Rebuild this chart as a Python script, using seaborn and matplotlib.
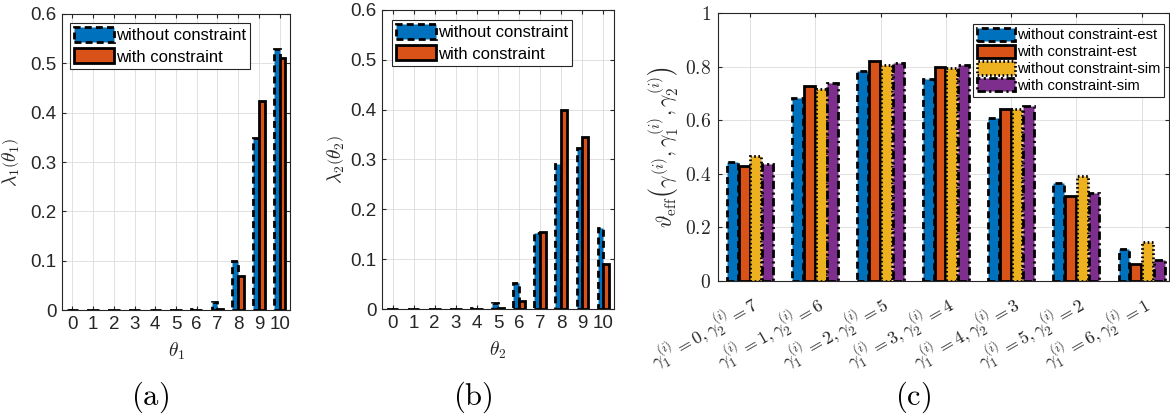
import numpy as np
import pandas as pd
import matplotlib
matplotlib.use('Agg')
import matplotlib.pyplot as plt
import matplotlib.transforms as mtransforms
from matplotlib.patches import Patch
import seaborn as sns

# === data ===
theta = [str(t) for t in range(11)]
lam1_without = [0.001, 0.001, 0.001, 0.001, 0.001, 0.001, 0.002, 0.017, 0.100, 0.348, 0.530]
lam1_with = [0.000, 0.000, 0.000, 0.000, 0.000, 0.000, 0.001, 0.002, 0.068, 0.423, 0.510]
lam2_without = [0.001, 0.001, 0.001, 0.001, 0.002, 0.012, 0.052, 0.152, 0.290, 0.323, 0.163]
lam2_with = [0.000, 0.000, 0.000, 0.000, 0.001, 0.002, 0.016, 0.154, 0.400, 0.345, 0.090]

groups = [r'$\gamma_1^{(i)}=%d,\gamma_2^{(i)}=%d$' % (k, 7 - k) for k in range(7)]
eff_without_est = [0.445, 0.683, 0.782, 0.753, 0.610, 0.365, 0.118]
eff_with_est = [0.430, 0.727, 0.820, 0.800, 0.642, 0.318, 0.063]
eff_without_sim = [0.467, 0.715, 0.805, 0.795, 0.642, 0.393, 0.147]
eff_with_sim = [0.437, 0.737, 0.812, 0.805, 0.653, 0.328, 0.080]

two_labels = ['without constraint', 'with constraint']
four_labels = ['without constraint-est', 'with constraint-est',
               'without constraint-sim', 'with constraint-sim']

blue, orange, yellow, purple = '#0072BD', '#D95319', '#EDB120', '#7E2F8E'
styles = [(0, (2.5, 1.5)), '-', (0, (0.6, 0.9)), (0, (3, 1.2, 0.8, 1.2))]
axis_gray = '#262626'

plt.rcParams.update({
    'font.family': ['Liberation Sans', 'DejaVu Sans'],
    'mathtext.fontset': 'cm',
    'xtick.direction': 'in',
    'ytick.direction': 'in',
    'xtick.top': True,
    'ytick.right': True,
    'xtick.color': axis_gray,
    'ytick.color': axis_gray,
    'axes.edgecolor': axis_gray,
    'axes.linewidth': 0.8,
    'xtick.major.size': 3,
    'ytick.major.size': 3,
})

fig = plt.figure(figsize=(11.7, 4.19), dpi=100)
W, H = 1170, 419


def px_axes(x0, y0, x1, y1):
    return fig.add_axes([x0 / W, 1 - y1 / H, (x1 - x0) / W, (y1 - y0) / H])


def style_bars(ax, n):
    for cont, ls in zip(ax.containers, styles[:n]):
        for p in cont:
            p.set_linestyle(ls)


def make_legend(ax, labels, colors, anchor, loc, size, spacing, hh, hl):
    handles = [Patch(facecolor=c, edgecolor='black', linewidth=2, linestyle=ls)
               for c, ls in zip(colors, styles)]
    leg = ax.legend(handles, labels, loc=loc, bbox_to_anchor=anchor,
                    borderaxespad=0, fontsize=size, handlelength=hl,
                    handleheight=hh, handletextpad=0.12, borderpad=0.25,
                    labelspacing=spacing, fancybox=False, framealpha=1)
    leg.get_frame().set_edgecolor(axis_gray)
    leg.get_frame().set_linewidth(0.8)
    for t in leg.get_texts():
        t.set_color('black')


def lambda_panel(ax, without, withc, xlab, ylab, box_w, box_h, leg_dx, leg_dy, ylab_dx):
    df = pd.DataFrame({
        'theta': theta * 2,
        'value': without + withc,
        'series': [two_labels[0]] * 11 + [two_labels[1]] * 11,
    })
    sns.barplot(data=df, x='theta', y='value', hue='series', order=theta,
                hue_order=two_labels, palette=[blue, orange], saturation=1,
                width=0.55, gap=0, edgecolor='black', linewidth=2,
                errorbar=None, legend=False, ax=ax)
    style_bars(ax, 2)
    ax.set_xlim(-0.5, 10.5)
    ax.set_ylim(0, 0.6)
    ax.set_yticks(np.arange(0, 0.61, 0.1))
    ax.set_yticklabels(['0', '0.1', '0.2', '0.3', '0.4', '0.5', '0.6'])
    ax.tick_params(labelsize=13.5, labelcolor=axis_gray, pad=4)
    ax.grid(True, color='#dcdcdc', linewidth=0.6)
    ax.set_axisbelow(True)
    ax.set_xlabel(xlab, fontsize=14, color=axis_gray)
    ax.set_ylabel(ylab, fontsize=14, color=axis_gray)
    ax.xaxis.set_label_coords(0.5, -31 / box_h)
    ax.yaxis.set_label_coords(-ylab_dx / box_w, 0.5)
    make_legend(ax, two_labels, [blue, orange],
                (leg_dx / box_w, 1 - leg_dy / box_h), 'upper left', 12, 0.3, 1.0, 2.4)


# === (a) ===
ax_a = px_axes(62, 14, 290, 310)
lambda_panel(ax_a, lam1_without, lam1_with, r'$\theta_1$',
             r'$\lambda_1\left(\theta_1\right)$', 228, 296, 8, 9, 40)

# === (b) ===
ax_b = px_axes(382, 10, 614, 309)
lambda_panel(ax_b, lam2_without, lam2_with, r'$\theta_2$',
             r'$\lambda_2\left(\theta_2\right)$', 232, 299, 10, 10, 35)

# === (c) ===
ax_c = px_axes(718, 13, 1169, 281)
df_c = pd.DataFrame({
    'group': groups * 4,
    'value': eff_without_est + eff_with_est + eff_without_sim + eff_with_sim,
    'series': sum([[lab] * 7 for lab in four_labels], []),
})
sns.barplot(data=df_c, x='group', y='value', hue='series', order=groups,
            hue_order=four_labels, palette=[blue, orange, yellow, purple],
            saturation=1, width=0.72, gap=0.08, edgecolor='black', linewidth=2,
            errorbar=None, legend=False, ax=ax_c)
style_bars(ax_c, 4)
ax_c.set_xlim(-0.49, 6.42)
ax_c.set_ylim(0, 1)
ax_c.set_yticks(np.arange(0, 1.01, 0.2))
ax_c.set_yticklabels([r'$0$', r'$0.2$', r'$0.4$', r'$0.6$', r'$0.8$', r'$1$'])
ax_c.set_xticks(range(7))
ax_c.set_xticklabels(groups, rotation=30, ha='right', va='top', rotation_mode='anchor')
shift = mtransforms.ScaledTranslation(20 / 100, 0, fig.dpi_scale_trans)
for lab in ax_c.get_xticklabels():
    lab.set_transform(lab.get_transform() + shift)
ax_c.tick_params(axis='y', labelsize=14, labelcolor=axis_gray, pad=5)
ax_c.tick_params(axis='x', labelsize=13, labelcolor=axis_gray, pad=7)
ax_c.grid(True, color='#dcdcdc', linewidth=0.6)
ax_c.set_axisbelow(True)
ax_c.set_xlabel('')
ax_c.set_ylabel(r'$\vartheta_{\mathrm{eff}}\left(\gamma^{(i)},\gamma_1^{(i)},\gamma_2^{(i)}\right)$',
                fontsize=15.5, color=axis_gray)
ax_c.yaxis.set_label_coords(-38 / 451, 0.5)
make_legend(ax_c, four_labels, [blue, orange, yellow, purple],
            (1 - 5 / 451, 1 - 11 / 268), 'upper right', 10.6, 0.15, 1.0, 2.6)

# === captions ===
for x, lab in [(150, '(a)'), (473, '(b)'), (913, '(c)')]:
    fig.text(x / W, 1 - 397 / H, r'$\mathrm{%s}$' % lab, fontsize=22,
             ha='center', va='center')

fig.savefig('out.png', dpi=100)
